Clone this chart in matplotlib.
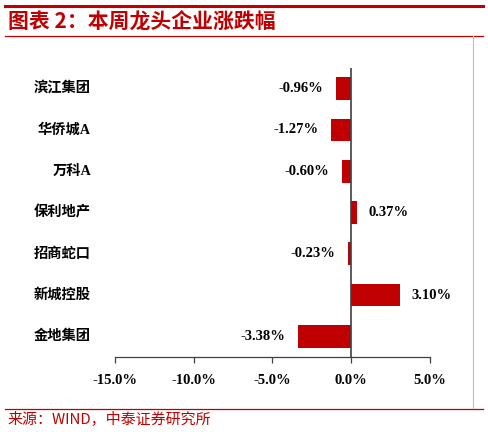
import matplotlib.pyplot as plt
from matplotlib.lines import Line2D
from matplotlib.transforms import blended_transform_factory

plt.rcParams["font.family"] = ["Liberation Serif", "Noto Sans CJK SC", "DejaVu Sans"]

companies = ["滨江集团", "华侨城A", "万科A", "保利地产", "招商蛇口", "新城控股", "金地集团"]
changes = [-0.96, -1.27, -0.60, 0.37, -0.23, 3.10, -3.38]
xticks = [-15, -10, -5, 0, 5]

W, H = 488, 432
RED = "#C00000"

fig = plt.figure(figsize=(W / 100, H / 100), dpi=100)


def fx(px):
    return px / W


def fy(py):
    return 1 - py / H


# page frame
fig.add_artist(Line2D([fx(5), fx(483)], [fy(6), fy(6)], color=RED, lw=2.2))
fig.add_artist(Line2D([fx(5), fx(483)], [fy(36), fy(36)], color=RED, lw=0.9))
fig.add_artist(Line2D([fx(5), fx(483)], [fy(409), fy(409)], color=RED, lw=0.9))
fig.add_artist(Line2D([fx(472.5), fx(472.5)], [fy(36), fy(408)], color="#BFBFBF", lw=0.8))

fig.text(fx(8), fy(22), "图表 2：本周龙头企业涨跌幅", color=RED, fontsize=15,
         fontweight="bold", style="italic", va="center", ha="left",
         family=["Noto Sans CJK SC", "DejaVu Sans"])
fig.text(fx(7), fy(419), "来源：WIND，中泰证券研究所", color=RED, fontsize=10.8,
         va="center", ha="left", family=["Noto Sans CJK SC", "DejaVu Sans"])

ax = fig.add_axes([fx(115), fy(357), fx(430) - fx(115), (357 - 68) / H])
n = len(companies)
ypos = list(range(n))[::-1]
ax.barh(ypos, changes, height=0.55, color=RED)
ax.set_xlim(-15, 5)
ax.set_ylim(-0.5, n - 0.5)

for s in ["top", "right", "left"]:
    ax.spines[s].set_visible(False)
ax.spines["bottom"].set_color("#404040")
ax.spines["bottom"].set_linewidth(0.9)
ax.axvline(0, color="#404040", lw=1.2)

ax.set_xticks(xticks)
ax.set_xticklabels([f"{t:.1f}%" for t in xticks], fontsize=10.5, fontweight="bold")
ax.tick_params(axis="x", direction="out", length=4, width=0.9, color="#404040", pad=8)
ax.set_yticks([])

# category names sit left of the plot, right-aligned at a fixed page position
trans = blended_transform_factory(fig.transFigure, ax.transData)
for y, name in zip(ypos, companies):
    ax.text(fx(91), y, name, transform=trans, ha="right", va="center",
            fontsize=10.3, fontweight="bold")

for y, v in zip(ypos, changes):
    if v < 0:
        ax.annotate(f"{v:.2f}%", xy=(v, y), xytext=(-9, 0), textcoords="offset points",
                    ha="right", va="center", fontsize=10.5, fontweight="bold")
    else:
        ax.annotate(f"{v:.2f}%", xy=(v, y), xytext=(8, 0), textcoords="offset points",
                    ha="left", va="center", fontsize=10.5, fontweight="bold")

fig.savefig("out.png", dpi=100)
